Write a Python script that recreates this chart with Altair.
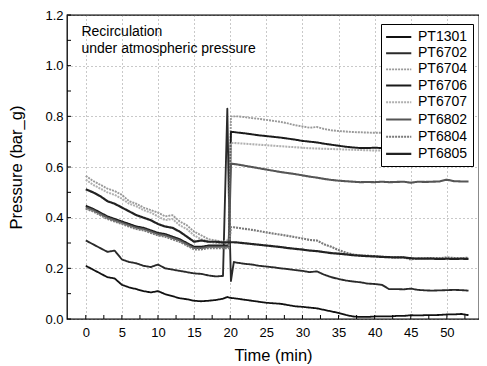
import altair as alt
import pandas as pd

# ---------------- data ----------------
times = [0, 1, 2, 3, 4, 5, 6, 7, 8, 9, 10, 11, 12, 13, 14, 15, 16, 17, 18, 19,
         19.6, 19.8, 20.1, 20.5,
         21, 22, 23, 24, 25, 26, 27, 28, 29, 30, 31, 32, 33, 34, 35, 36, 37,
         38, 39, 40, 41, 42, 43, 44, 45, 46, 47, 48, 49, 50, 51, 52, 53]

names = ["PT1301", "PT6702", "PT6704", "PT6706", "PT6707", "PT6802", "PT6804", "PT6805"]

pt1301 = [0.21, 0.195, 0.18, 0.165, 0.16, 0.135, 0.125, 0.118, 0.11, 0.105, 0.11, 0.098,
          0.09, 0.082, 0.078, 0.072, 0.07, 0.072, 0.075, 0.08,
          0.087, 0.085, 0.083, 0.082,
          0.08, 0.076, 0.072, 0.068, 0.064, 0.062, 0.06, 0.055, 0.05, 0.048, 0.045, 0.042,
          0.036, 0.03, 0.024, 0.016, 0.01, 0.008, 0.008, 0.01, 0.01, 0.01, 0.012, 0.012,
          0.015, 0.014, 0.015, 0.015, 0.016, 0.018, 0.018, 0.02, 0.015]

pt6702 = [0.31, 0.295, 0.28, 0.265, 0.27, 0.235, 0.225, 0.22, 0.21, 0.205, 0.215, 0.2,
          0.195, 0.19, 0.185, 0.18, 0.178, 0.172, 0.168, 0.17,
          0.83, 0.5, 0.15, 0.225,
          0.222, 0.218, 0.215, 0.21, 0.207, 0.204, 0.2, 0.197, 0.193, 0.19, 0.185, 0.188,
          0.175, 0.165, 0.158, 0.152, 0.148, 0.145, 0.14, 0.138, 0.135, 0.118, 0.118, 0.117,
          0.12, 0.115, 0.113, 0.112, 0.113, 0.114, 0.115, 0.114, 0.112]

pt6704 = [0.565, 0.545, 0.53, 0.515, 0.505, 0.49, 0.465, 0.455, 0.44, 0.43, 0.42, 0.405,
          0.41, 0.385, 0.37, 0.345, 0.33, 0.315, 0.31, 0.305,
          0.31, 0.31, 0.80, 0.80,
          0.80, 0.797, 0.793, 0.79, 0.786, 0.782, 0.778, 0.772, 0.765, 0.76, 0.755, 0.758,
          0.75, 0.745, 0.742, 0.74, 0.738, 0.737, 0.736, 0.735, 0.735, 0.733, 0.733, 0.732,
          0.73, 0.73, 0.73, 0.728, 0.727, 0.725, 0.722, 0.72, 0.715]

pt6706 = [0.447, 0.435, 0.42, 0.405, 0.395, 0.385, 0.375, 0.365, 0.36, 0.35, 0.34, 0.335,
          0.325, 0.315, 0.3, 0.285, 0.285, 0.29, 0.29, 0.29,
          0.29, 0.29, 0.738, 0.738,
          0.736, 0.733, 0.729, 0.725, 0.722, 0.719, 0.716, 0.712, 0.708, 0.703, 0.70, 0.697,
          0.692, 0.688, 0.684, 0.68, 0.677, 0.675, 0.675, 0.676, 0.675, 0.675, 0.676, 0.675,
          0.676, 0.676, 0.675, 0.675, 0.676, 0.675, 0.675, 0.675, 0.674]

pt6707 = [0.55, 0.53, 0.515, 0.50, 0.49, 0.475, 0.455, 0.445, 0.43, 0.42, 0.405, 0.39,
          0.395, 0.37, 0.355, 0.33, 0.315, 0.305, 0.30, 0.30,
          0.30, 0.30, 0.695, 0.695,
          0.694, 0.692, 0.69, 0.688, 0.686, 0.684, 0.682, 0.68, 0.678, 0.676, 0.674, 0.673,
          0.672, 0.671, 0.67, 0.669, 0.668, 0.667, 0.666, 0.665, 0.665, 0.664, 0.664, 0.663,
          0.663, 0.662, 0.662, 0.661, 0.66, 0.66, 0.66, 0.66, 0.66]

pt6802 = [0.44, 0.43, 0.415, 0.40, 0.39, 0.38, 0.37, 0.36, 0.355, 0.345, 0.335, 0.33,
          0.32, 0.31, 0.295, 0.28, 0.28, 0.285, 0.285, 0.285,
          0.285, 0.285, 0.613, 0.612,
          0.61, 0.605, 0.60, 0.595, 0.59, 0.585, 0.58, 0.576, 0.572, 0.567, 0.562, 0.558,
          0.553, 0.549, 0.546, 0.544, 0.542, 0.54, 0.541, 0.54, 0.542, 0.54, 0.541, 0.542,
          0.538, 0.542, 0.541, 0.542, 0.543, 0.55, 0.544, 0.543, 0.543]

pt6804 = [0.435, 0.425, 0.41, 0.395, 0.385, 0.375, 0.365, 0.355, 0.35, 0.34, 0.33, 0.325,
          0.315, 0.305, 0.29, 0.275, 0.275, 0.28, 0.28, 0.28,
          0.28, 0.28, 0.362, 0.362,
          0.36, 0.356, 0.352, 0.347, 0.342, 0.337, 0.333, 0.328, 0.323, 0.318, 0.312, 0.31,
          0.295, 0.285, 0.272, 0.262, 0.255, 0.25, 0.25, 0.248, 0.246, 0.244, 0.243, 0.244,
          0.235, 0.24, 0.24, 0.241, 0.24, 0.243, 0.241, 0.24, 0.242]

pt6805 = [0.512, 0.50, 0.485, 0.465, 0.455, 0.44, 0.425, 0.41, 0.40, 0.39, 0.375, 0.365,
          0.36, 0.345, 0.325, 0.305, 0.31, 0.305, 0.305, 0.302,
          0.303, 0.303, 0.303, 0.303,
          0.302, 0.299, 0.296, 0.293, 0.29, 0.287, 0.284, 0.28, 0.277, 0.274, 0.27, 0.268,
          0.264, 0.26, 0.258, 0.255, 0.252, 0.25, 0.248, 0.247, 0.245, 0.244, 0.243, 0.243,
          0.24, 0.238, 0.238, 0.238, 0.237, 0.238, 0.237, 0.238, 0.237]

series_values = [pt1301, pt6702, pt6704, pt6706, pt6707, pt6802, pt6804, pt6805]

note_lines = ["Recirculation", "under atmospheric pressure"]
note_t = [-0.6, -0.6]
note_p = [1.132, 1.066]

x_major = [0, 5, 10, 15, 20, 25, 30, 35, 40, 45, 50, 55]
x_minor = [2.5, 7.5, 12.5, 17.5, 22.5, 27.5, 32.5, 37.5, 42.5, 47.5, 52.5]
y_major = [0.0, 0.2, 0.4, 0.6, 0.8, 1.0, 1.2]
y_minor = [0.1, 0.3, 0.5, 0.7, 0.9, 1.1]

# ---------------- styles ----------------
colors = ["#111111", "#2a2a2a", "#9a9a9a", "#1a1a1a", "#b0b0b0", "#555555", "#7a7a7a", "#222222"]
dashes = [[1, 0], [1, 0], [2, 1], [1, 0], [2, 1], [1, 0], [2, 1], [1, 0]]
widths = [1.8, 2.2, 1.6, 2.4, 1.6, 1.6, 1.8, 1.8]

FONT = "Liberation Sans"
W, H = 412, 304
X_MAX = 54.45

rows = []
for name, vals in zip(names, series_values):
    assert len(vals) == len(times), name
    for t, v in zip(times, vals):
        rows.append({"t": t, "p": v, "name": name})
df = pd.DataFrame(rows)

xs = alt.Scale(domain=[-2.6, X_MAX], nice=False, zero=False)
ys = alt.Scale(domain=[0, 1.2], nice=False, zero=True)

lines = alt.Chart(df).mark_line(strokeJoin="round").encode(
    x=alt.X("t:Q", scale=xs,
            axis=alt.Axis(values=x_major, title="Time (min)", grid=True, ticks=False,
                          domain=False, labelPadding=7, titlePadding=8,
                          gridDash=[1, 3], gridColor="#777777", gridWidth=0.8)),
    y=alt.Y("p:Q", scale=ys,
            axis=alt.Axis(values=y_major, format=".1f", title="Pressure (bar_g)", grid=True,
                          ticks=False, domain=False, labelPadding=4, titlePadding=20,
                          gridDash=[1, 3], gridColor="#777777", gridWidth=0.8)),
    color=alt.Color("name:N", scale=alt.Scale(domain=names, range=colors),
                    legend=alt.Legend(title=None, orient="none", legendX=314, legendY=9,
                                      symbolType="M-1.2,0L2.4,0", symbolSize=196,
                                      symbolStrokeWidth=1.2, labelOffset=15,
                                      rowPadding=1.2, padding=5,
                                      strokeColor="black", fillColor="white",
                                      labelFont=FONT, labelFontSize=14,
                                      labelColor="black")),
    strokeDash=alt.StrokeDash("name:N", scale=alt.Scale(domain=names, range=dashes),
                              legend=None),
    strokeWidth=alt.StrokeWidth("name:N", scale=alt.Scale(domain=names, range=widths),
                                legend=None),
    order=alt.Order("t:Q"),
)

notes_df = pd.DataFrame({"t": note_t, "p": note_p, "txt": note_lines})
notes = alt.Chart(notes_df).mark_text(align="left", baseline="middle", font=FONT,
                                      fontSize=14, color="black").encode(
    x=alt.X("t:Q", scale=xs), y=alt.Y("p:Q", scale=ys), text="txt:N")

ytick_df = pd.DataFrame({"v": y_major + y_minor})
yticks = alt.Chart(ytick_df).mark_rule(color="black", strokeWidth=1).encode(
    y=alt.Y("v:Q", scale=ys), x=alt.value(0), x2=alt.value(4))

xtick_df = pd.DataFrame({"v": [v for v in x_major + x_minor if v <= X_MAX]})
xticks = alt.Chart(xtick_df).mark_rule(color="black", strokeWidth=1).encode(
    x=alt.X("v:Q", scale=xs), y=alt.value(H), y2=alt.value(H - 4))

chart = alt.layer(lines, yticks, xticks, notes).properties(
    width=W, height=H,
    autosize=alt.AutoSizeParams(type="none"),
    padding={"left": 59, "top": 7, "right": 0, "bottom": 47},
    background="white",
).configure_view(
    stroke="black", strokeWidth=1.3
).configure_axis(
    labelFont=FONT, labelFontSize=13, labelColor="black",
    titleFont=FONT, titleFontSize=16.5, titleFontWeight="normal", titleColor="black",
)

chart.save("out.html", embed_options={"renderer": "svg", "actions": False})
